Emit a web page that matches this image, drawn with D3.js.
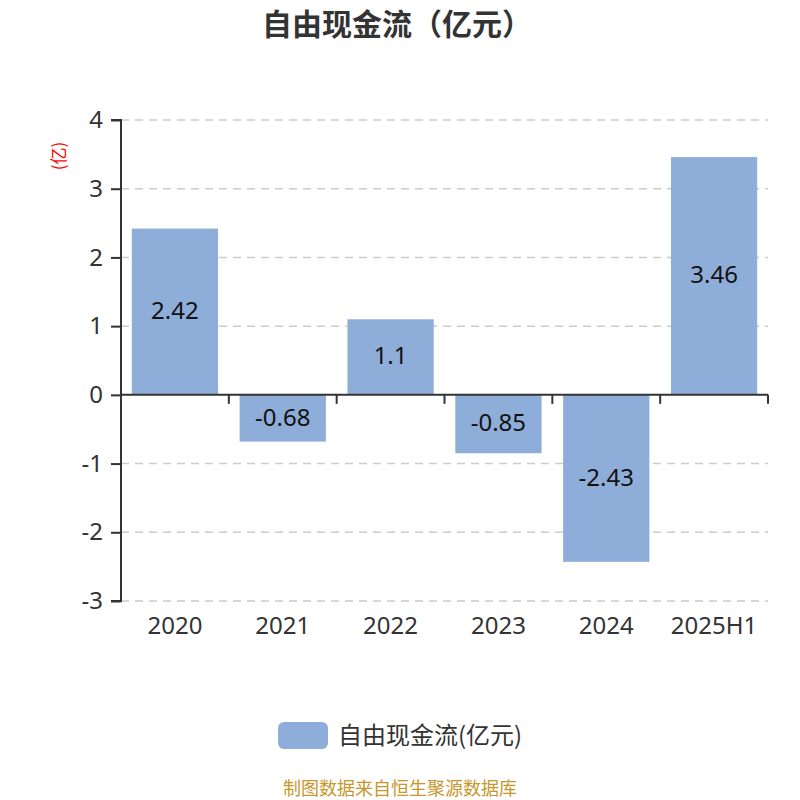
<!DOCTYPE html>
<html><head><meta charset="utf-8">
<script src="https://cdn.jsdelivr.net/npm/d3@7/dist/d3.min.js"></script>
<style>body{margin:0;background:#fff;} text{font-family:"Microsoft YaHei","Noto Sans CJK SC","Noto Sans",sans-serif;}</style>
</head><body>
<svg id="c" width="800" height="800"></svg>
<script>
const categories = ["2020","2021","2022","2023","2024","2025H1"];
const values = [2.42, -0.68, 1.1, -0.85, -2.43, 3.46];
const yTicks = [-3,-2,-1,0,1,2,3,4];
const title = "自由现金流（亿元）";
const seriesName = "自由现金流(亿元)";
const unitLabel = "(亿)";
const footer = "制图数据来自恒生聚源数据库";

(function(){
const svg = d3.select("#c");
const pl = 121, pr = 768, pt = 120, pb = 601;
const x = d3.scaleBand().domain(categories).range([pl, pr]).paddingInner(0).paddingOuter(0);
const y = d3.scaleLinear().domain([-3, 4]).range([pb, pt]);
const barColor = "#8eadd9";
const axisColor = "#333";
const latin = '"Noto Sans","Microsoft YaHei",sans-serif';

svg.append("text").attr("x", 397).attr("y", 35).attr("text-anchor","middle")
  .attr("font-size", 30).attr("font-weight","bold").attr("fill","#333").text(title);

// grid
svg.append("g").selectAll("line").data(yTicks.filter(d => d !== 0)).join("line")
  .attr("x1", pl).attr("x2", pr).attr("y1", d => y(d)).attr("y2", d => y(d))
  .attr("stroke", "#ccc").attr("stroke-width", 1.5).attr("stroke-dasharray", "8,6");

// bars
const bw = x.bandwidth() * 0.8;
svg.append("g").selectAll("rect").data(values).join("rect")
  .attr("x", (d,i) => x(categories[i]) + (x.bandwidth() - bw)/2)
  .attr("width", bw)
  .attr("y", d => y(Math.max(0,d)))
  .attr("height", d => Math.abs(y(d) - y(0)))
  .attr("fill", barColor);

// bar labels
svg.append("g").selectAll("text").data(values).join("text")
  .attr("x", (d,i) => x(categories[i]) + x.bandwidth()/2)
  .attr("y", d => (y(d) + y(0))/2 - 1)
  .attr("dy", "0.35em").attr("text-anchor","middle")
  .attr("font-size", 24).attr("fill","#111").style("font-family", latin).text(d => String(d));

// y axis
const yAxis = d3.axisLeft(y).tickValues(yTicks).tickSize(10).tickPadding(8).tickFormat(d => String(d));
const gy = svg.append("g").attr("transform", `translate(${pl},0)`).call(yAxis);
gy.select(".domain").attr("stroke", axisColor).attr("stroke-width", 2).attr("d", `M-10,${pt}H0V${pb}H-10`);
gy.selectAll(".tick line").attr("stroke", axisColor).attr("stroke-width", 2);
gy.selectAll(".tick text").attr("font-size", 24).attr("fill", "#333").style("font-family", latin);

// x axis at zero
const gx = svg.append("g").attr("transform", `translate(0,${y(0)})`);
gx.append("line").attr("x1", pl).attr("x2", pr).attr("y1",0).attr("y2",0)
  .attr("stroke", axisColor).attr("stroke-width", 2);
const bounds = categories.map(c => x(c)).concat([pr]).slice(1);
gx.selectAll("line.t").data(bounds).join("line").attr("class","t")
  .attr("x1", d => d).attr("x2", d => d).attr("y1", 0).attr("y2", 9)
  .attr("stroke", axisColor).attr("stroke-width", 2);

// category labels
svg.append("g").selectAll("text").data(categories).join("text")
  .attr("x", d => x(d) + x.bandwidth()/2).attr("y", 634)
  .attr("text-anchor","middle").attr("font-size", 24).attr("fill","#333")
  .style("font-family", latin).text(d => d);

// unit label
svg.append("text").attr("transform", "translate(65,156) rotate(-90)")
  .attr("text-anchor","middle").attr("font-size", 17).attr("fill","red").text(unitLabel);

// legend
svg.append("rect").attr("x", 278).attr("y", 722).attr("width", 50).attr("height", 27)
  .attr("rx", 6).attr("fill", barColor);
svg.append("text").attr("x", 338).attr("y", 736).attr("dy","0.35em")
  .attr("font-size", 24).attr("fill","#333").text(seriesName);

// footer
svg.append("text").attr("x", 400).attr("y", 795).attr("text-anchor","middle")
  .attr("font-size", 18).attr("fill","#c8962a").text(footer);
})();
</script>
</body></html>
